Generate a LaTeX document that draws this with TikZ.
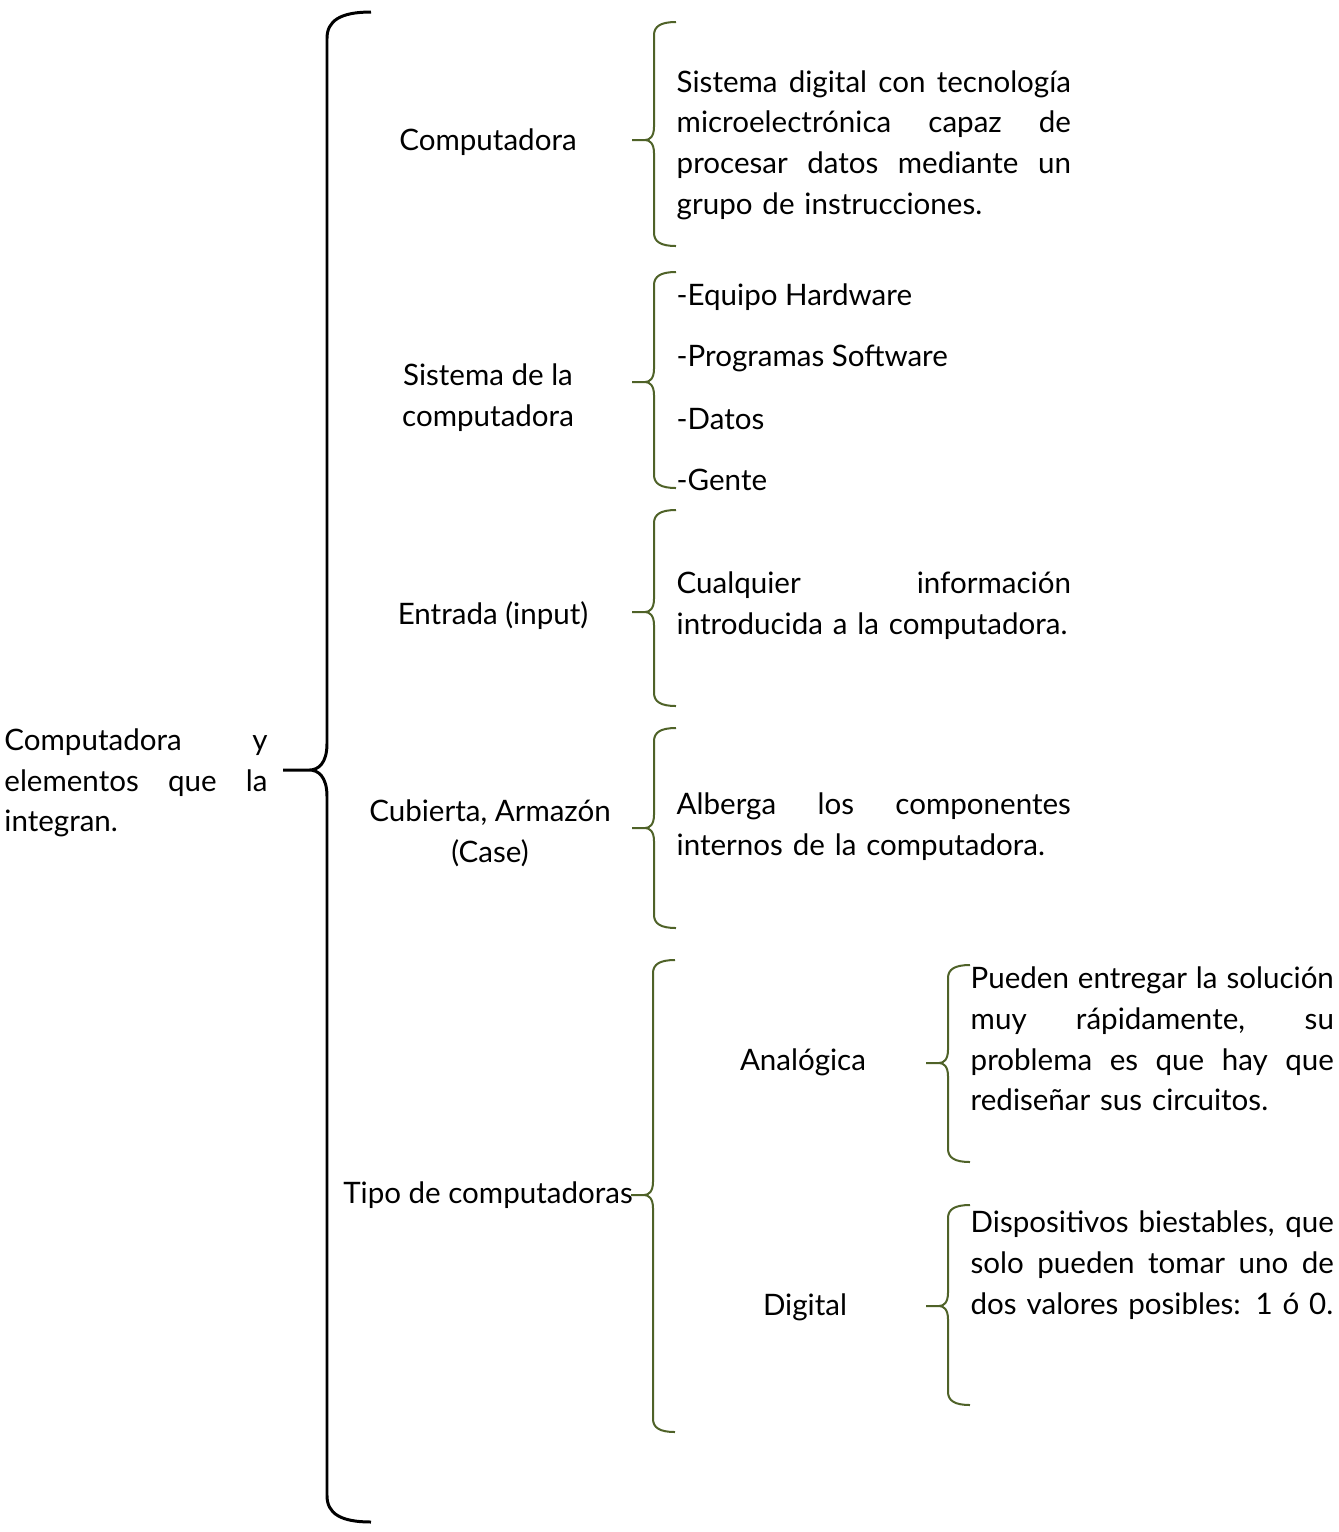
\documentclass[tikz,border=0pt]{standalone}
\usepackage{fontspec}
\setmainfont{Lato}
\definecolor{verde}{RGB}{79,98,40}
% linea justificada a un ancho dado
\newcommand{\jus}[2]{{\spaceskip=0pt\xspaceskip=0pt\makebox[#1][s]{#2}}}
% llave: estilo, x, arriba, medio, abajo, tamano
\newcommand{\llave}[6]{%
\draw[#1] ({#2+#6},#3) .. controls ({#2+0.3*#6},#3) and (#2,{#3+0.2*#6}) .. (#2,{#3+0.6*#6})
  -- (#2,{#4-0.6*#6}) .. controls (#2,{#4-0.15*#6}) and ({#2-0.2*#6},#4) .. ({#2-0.4*#6},#4) -- ({#2-#6},#4)
  ({#2-0.4*#6},#4) .. controls ({#2-0.2*#6},#4) and (#2,{#4+0.15*#6}) .. (#2,{#4+0.6*#6})
  -- (#2,{#5-0.6*#6}) .. controls (#2,{#5-0.2*#6}) and ({#2+0.3*#6},#5) .. ({#2+#6},#5);}
\tikzset{
  txt/.style={inner sep=0pt, font=\fontsize{8.4}{11.6}\selectfont},
  tema/.style={txt, align=center},
  desc/.style={txt, anchor=west, text width=3.94cm, align=left},
  item/.style={txt, anchor=west},
  negra/.style={black, line width=0.85pt},
  verdel/.style={verde, line width=0.57pt}
}
\begin{document}
\begin{tikzpicture}[x=0.01cm,y=-0.01cm]
\useasboundingbox (0,0) rectangle (1338,1532);

% raiz
\node[txt, text width=2.63cm, align=left] (raiz) at (136,783)
  {\jus{2.63cm}{Computadora y}\\\jus{2.63cm}{elementos que la}\\integran.};
\llave{negra}{327}{12}{770}{1522}{44}

% computadora
\node[tema] (comp) at (488,142) {Computadora};
\llave{verdel}{654}{22}{140}{246}{22}
\node[desc] (defcomp) at (676,145)
  {\jus{3.94cm}{Sistema digital con tecnología}\\\jus{3.94cm}{microelectrónica capaz de}\\
   \jus{3.94cm}{procesar datos mediante un}\\grupo de instrucciones.};

% sistema
\node[tema] (sist) at (488,398) {Sistema de la\\computadora};
\llave{verdel}{654}{272}{382}{488}{22}
\node[item] (hw) at (676,297) {-Equipo Hardware};
\node[item] (sw) at (676,358) {-Programas Software};
\node[item] (dat) at (676,419) {-Datos};
\node[item] (gen) at (676,480) {-Gente};

% entrada
\node[tema] (entr) at (493,616) {Entrada (input)};
\llave{verdel}{654}{510}{612}{706}{22}
\node[desc] (defentr) at (676,606)
  {\jus{3.94cm}{Cualquier información}\\introducida a la computadora.};

% cubierta
\node[tema] (cub) at (490,833) {Cubierta, Armazón\\(Case)};
\llave{verdel}{654}{728}{828}{928}{22}
\node[desc] (defcub) at (676,827)
  {\jus{3.94cm}{Alberga los componentes}\\internos de la computadora.};

% tipos
\node[tema] (tipo) at (488,1195) {Tipo de computadoras};
\llave{verdel}{653}{960}{1195}{1432}{22}

\node[tema] (anal) at (803,1062) {Analógica};
\llave{verdel}{948}{965}{1063}{1162}{22}
\node[desc, text width=3.63cm] (defanal) at (970,1039)
  {\jus{3.63cm}{Pueden entregar la solución}\\\jus{3.63cm}{muy rápidamente, su}\\
   \jus{3.63cm}{problema es que hay que}\\rediseñar sus circuitos.};

\node[tema] (dig) at (805,1307) {Digital};
\llave{verdel}{948}{1205}{1306}{1405}{22}
\node[desc, text width=3.63cm] (defdig) at (970,1265)
  {\jus{3.63cm}{Dispositivos biestables, que}\\\jus{3.63cm}{solo pueden tomar uno de}\\
   dos valores posibles: 1 ó 0.};

\end{tikzpicture}
\end{document}
